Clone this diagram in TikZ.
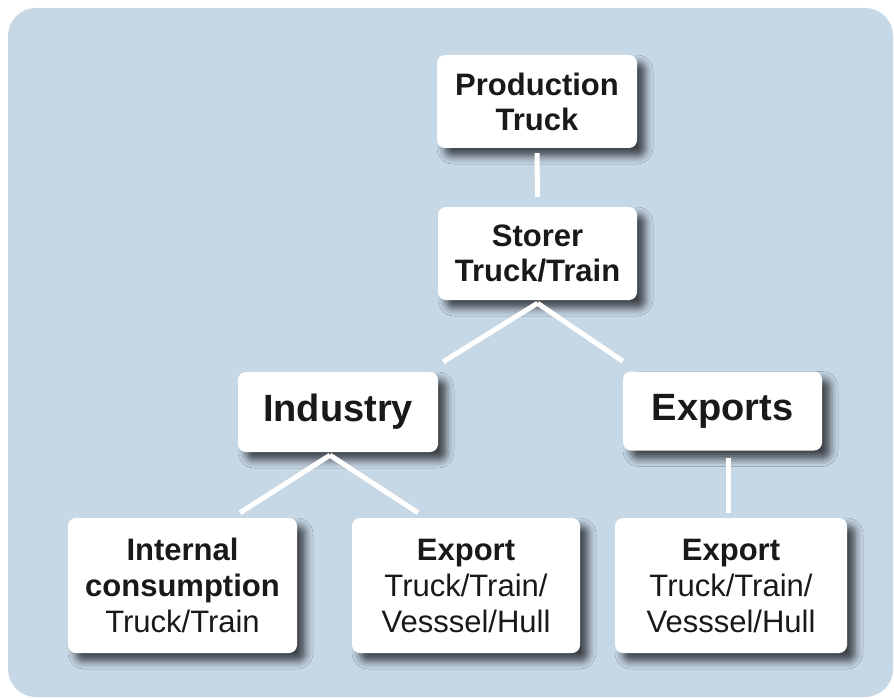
\documentclass[tikz,border=0pt]{standalone}
\usepackage{fontspec}
\setmainfont{Liberation Sans}
\usetikzlibrary{shadows.blur}
\definecolor{bgblue}{RGB}{198,215,230}
\definecolor{txt}{RGB}{25,25,25}
\definecolor{shadowc}{RGB}{60,70,90}
\tikzset{
  box/.style={draw=none, fill=white, rounded corners=8pt, align=center, inner sep=0pt,
    text=txt, font=\fontsize{31}{35}\selectfont,
    blur shadow={shadow xshift=8pt, shadow yshift=-8pt, shadow blur radius=8pt, shadow opacity=70, shadow blur extra rounding=2pt}},
  bigbox/.style={box, font=\fontsize{38}{44}\selectfont\bfseries},
  lowbox/.style={box, font=\fontsize{31}{36}\selectfont},
  conn/.style={draw=white, line width=5pt}
}
\begin{document}
\begin{tikzpicture}[x=1pt,y=-1pt]
\useasboundingbox (0,0) rectangle (894,698);
\fill[bgblue, rounded corners=28pt] (8,8) rectangle (893,697);

\node[box, minimum width=200pt, minimum height=93pt] (prod) at (537,101.5) {\bfseries Production\\\bfseries Truck};
\node[box, minimum width=199pt, minimum height=93pt] (storer) at (537.5,253.5) {\bfseries Storer\\\bfseries Truck/Train};
\node[bigbox, minimum width=200pt, minimum height=80pt] (industry) at (338,412) {Industry};
\node[bigbox, minimum width=199pt, minimum height=79pt] (exports) at (722.5,411) {Exports};
\node[lowbox, minimum width=229pt, minimum height=135pt] (internal) at (182.5,585.5) {\bfseries Internal\\\bfseries consumption\\Truck/Train};
\node[lowbox, minimum width=228pt, minimum height=135pt] (exportA) at (466,585.5) {\bfseries Export\\Truck/Train/\\Vesssel/Hull};
\node[lowbox, minimum width=232pt, minimum height=135pt] (exportB) at (731,585.5) {\bfseries Export\\Truck/Train/\\Vesssel/Hull};

\draw[conn] ([yshift=-5pt]prod.south) -- ([yshift=10pt]storer.north);
\draw[conn] ([yshift=-3pt]storer.south) -- ([xshift=5pt,yshift=10pt]industry.north east);
\draw[conn] ([yshift=-3pt]storer.south) -- ([yshift=10pt]exports.north west);
\draw[conn] ([xshift=-8pt,yshift=-3pt]industry.south) -- ([xshift=57.5pt,yshift=5pt]internal.north);
\draw[conn] ([xshift=-8pt,yshift=-3pt]industry.south) -- ([xshift=-48pt,yshift=5pt]exportA.north);
\draw[conn] ([xshift=5.5pt,yshift=-7pt]exports.south) -- ([xshift=-3pt,yshift=5pt]exportB.north);
\end{tikzpicture}
\end{document}
